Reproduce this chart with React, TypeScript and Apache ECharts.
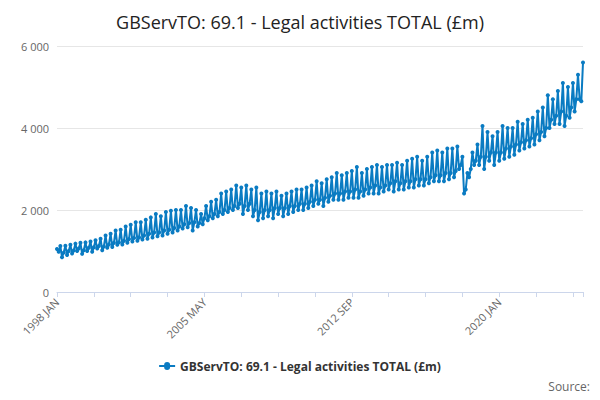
import { useEffect, useRef } from "react";
import * as echarts from "echarts";

const TITLE = "GBServTO: 69.1 - Legal activities TOTAL (£m)";
const MONTHS = ["JAN", "FEB", "MAR", "APR", "MAY", "JUN", "JUL", "AUG", "SEP", "OCT", "NOV", "DEC"];
const SHOWN_LABELS = ["1998 JAN", "2005 MAY", "2012 SEP", "2020 JAN", "2026 MAR"];

// monthly values, one row per year (1998 .. 2026 Mar)
const values: number[] = [
  1050, 980, 1120, 850, 960, 1130, 900, 1000, 1150, 940, 1010, 1180,
  1000, 1060, 1200, 930, 1020, 1210, 1000, 1080, 1230, 980, 1090, 1260,
  1060, 1120, 1300, 1020, 1110, 1380, 1080, 1160, 1420, 1100, 1200, 1500,
  1150, 1210, 1520, 1160, 1250, 1600, 1200, 1290, 1640, 1230, 1320, 1700,
  1250, 1330, 1700, 1280, 1380, 1760, 1300, 1420, 1820, 1330, 1450, 1900,
  1360, 1450, 1850, 1380, 1500, 1950, 1420, 1520, 1980, 1450, 1560, 2000,
  1500, 1600, 2000, 1550, 1650, 2100, 1580, 1680, 2050, 1500, 1700, 2000,
  1600, 1680, 1900, 1650, 1800, 2100, 1750, 1850, 2200, 1800, 1900, 2250,
  1850, 1950, 2400, 1900, 2000, 2450, 1950, 2050, 2500, 2000, 2100, 2600,
  2050, 2150, 2550, 1900, 2100, 2600, 2000, 2150, 2500, 1850, 2000, 2550,
  1750, 1950, 2400, 1800, 2000, 2450, 1850, 2000, 2400, 1800, 2050, 2450,
  1900, 2050, 2350, 1850, 2050, 2400, 1900, 2100, 2450, 1950, 2100, 2500,
  2000, 2150, 2500, 2000, 2150, 2550, 2050, 2200, 2600, 2100, 2250, 2700,
  2150, 2250, 2650, 2100, 2300, 2750, 2200, 2350, 2800, 2250, 2400, 2900,
  2250, 2400, 2850, 2250, 2450, 2900, 2300, 2450, 2950, 2300, 2500, 3050,
  2300, 2450, 2900, 2350, 2500, 3000, 2400, 2550, 3050, 2400, 2600, 3100,
  2400, 2550, 3050, 2450, 2600, 3100, 2500, 2650, 3100, 2450, 2700, 3150,
  2500, 2650, 3100, 2500, 2700, 3200, 2550, 2700, 3250, 2550, 2750, 3300,
  2600, 2750, 3200, 2600, 2750, 3300, 2650, 2800, 3400, 2700, 2850, 3450,
  2700, 2850, 3400, 2700, 2900, 3500, 2750, 2900, 3500, 2800, 2950, 3550,
  3000, 3100, 3300, 2400, 2500, 2900, 2800, 3000, 3400, 3100, 3200, 3600,
  3100, 3300, 4050, 3000, 3300, 3900, 3200, 3400, 3800, 3100, 3400, 3900,
  3200, 3400, 4050, 3250, 3500, 4000, 3300, 3550, 4000, 3350, 3600, 4150,
  3450, 3650, 4100, 3500, 3700, 4200, 3550, 3750, 4250, 3600, 3850, 4400,
  3700, 3900, 4500, 3800, 4000, 4800, 4000, 4200, 4700, 4100, 4300, 4900,
  4100, 4400, 5100, 4050, 4300, 5000, 4250, 4500, 5100, 4400, 4700, 5300,
  4700, 4650, 5600,
];

const categories: string[] = values.map(
  (_, i) => `${1998 + Math.floor(i / 12)} ${MONTHS[i % 12]}`
);

const BLUE = "#0a7bc2";

export default function App() {
  const ref = useRef<HTMLDivElement>(null);

  useEffect(() => {
    if (!ref.current) return;
    const chart = echarts.init(ref.current, null, { renderer: "svg" });
    chart.setOption({
      animation: false,
      title: {
        text: TITLE,
        left: "center",
        top: 0,
        textStyle: { fontFamily: "Open Sans", fontSize: 18, fontWeight: "normal", color: "#222" },
      },
      legend: {
        bottom: 15,
        left: "center",
        icon: "path://M0,9 L5,9 A3,3 0 0,1 11,9 L16,9 L16,11 L11,11 A3,3 0 0,1 5,11 L0,11 Z",
        itemWidth: 16,
        itemHeight: 8,
        itemGap: 6,
        textStyle: { fontFamily: "Open Sans", fontSize: 12, fontWeight: "bold", color: "#333" },
      },
      graphic: [
        {
          type: "text",
          right: 2,
          bottom: 0,
          style: { text: "Source:", fill: "#666", font: '12px "Open Sans"' },
        },
      ],
      grid: { left: 49, right: 9, top: 38, bottom: 100 },
      xAxis: {
        type: "category",
        data: categories,
        boundaryGap: false,
        axisLine: { lineStyle: { color: "#ccd6eb" } },
        axisTick: {
          lineStyle: { color: "#ccd6eb" },
          interval: (i: number) => i % 22 === 0 || i === values.length - 1,
        },
        axisLabel: {
          interval: (_: number, v: string) => SHOWN_LABELS.includes(v),
          showMaxLabel: true,
          hideOverlap: false,
          rotate: 45,
          color: "#666",
          fontFamily: "Open Sans",
          fontSize: 11,
        },
      },
      yAxis: {
        type: "value",
        min: 0,
        max: 6000,
        interval: 2000,
        axisLabel: {
          color: "#666",
          fontFamily: "Open Sans",
          fontSize: 11,
          formatter: (v: number) => (v >= 1000 ? `${Math.floor(v / 1000)} ${String(v % 1000).padStart(3, "0")}` : `${v}`),
        },
        splitLine: { lineStyle: { color: "#e6e6e6" } },
      },
      series: [
        {
          name: TITLE,
          type: "line",
          data: values,
          symbol: "circle",
          symbolSize: 4,
          showAllSymbol: true,
          lineStyle: { width: 2, color: BLUE },
          itemStyle: { color: BLUE },
        },
      ],
    });
    return () => chart.dispose();
  }, []);

  return <div ref={ref} style={{ width: 584, height: 384 }} />;
}
